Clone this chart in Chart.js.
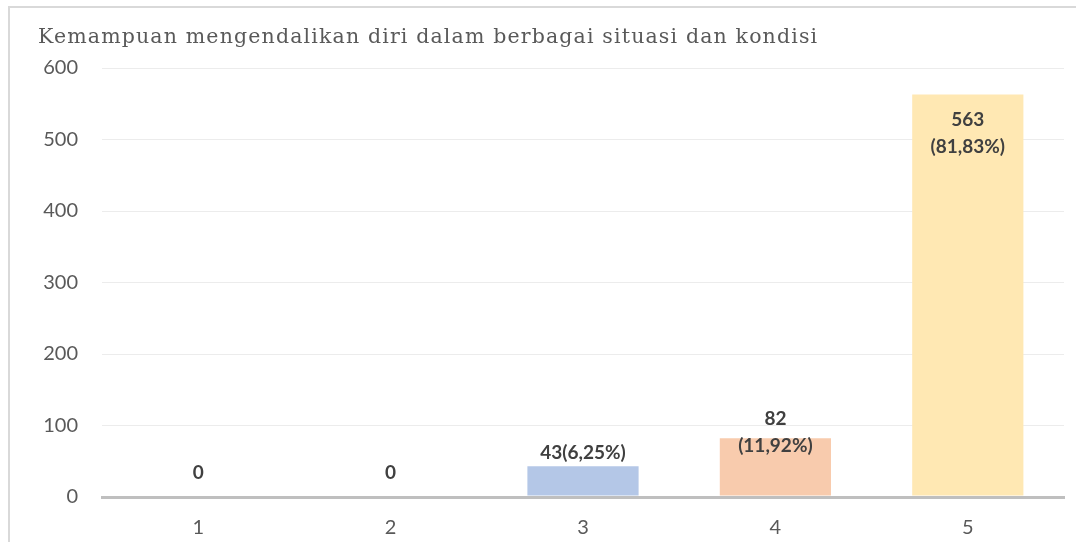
<!DOCTYPE html>
<html>
<head>
<meta charset="utf-8">
<script src="https://cdn.jsdelivr.net/npm/chart.js@4/dist/chart.umd.min.js"></script>
<style>
    body { margin: 0; background: #fff; }
    #wrap { position: relative; width: 1076px; height: 542px; overflow: hidden; }
    #frame { position: absolute; left: 8px; top: 6px; width: 1100px; height: 600px;
             border-left: 2px solid #d9d9d9; border-top: 2px solid #d9d9d9; }
    canvas { position: absolute; left: 0; top: 0; }
</style>
</head>
<body>
<div id="wrap">
    <div id="frame"></div>
    <canvas id="chart" width="1076" height="542"></canvas>
</div>
<script>
const chartTitle = "Kemampuan mengendalikan diri dalam berbagai situasi dan kondisi";
const categories = ["1", "2", "3", "4", "5"];
const counts = [0, 0, 43, 82, 563];
const dataLabels = [["0"], ["0"], ["43(6,25%)"], ["82", "(11,92%)"], ["563", "(81,83%)"]];
const yTicks = [0, 100, 200, 300, 400, 500, 600];
const barColors = ["#b4c7e7", "#b4c7e7", "#b4c7e7", "#f8cbad", "#ffe8b3"];

// label offsets from bar top (first line centre), Excel placed them a bit oddly
const labelOffsets = [-24, -24, -13, -19, 25];

const titlePlugin = {
    id: "sideTitle",
    afterDraw(chart) {
        const ctx = chart.ctx;
        ctx.save();
        ctx.font = "20.5px 'DejaVu Serif'";
        ctx.fillStyle = "#595959";
        ctx.textBaseline = "middle";
        const w = ctx.measureText(chartTitle).width;
        const spacing = (779 - w) / (chartTitle.length - 1);
        ctx.letterSpacing = spacing.toFixed(2) + "px";
        ctx.fillText(chartTitle, 38, 38);
        ctx.restore();
    }
};

const labelPlugin = {
    id: "barLabels",
    afterDatasetsDraw(chart) {
        const ctx = chart.ctx;
        const meta = chart.getDatasetMeta(0);
        ctx.save();
        ctx.font = "bold 19px Lato";
        ctx.fillStyle = "#404040";
        ctx.textAlign = "center";
        ctx.textBaseline = "middle";
        meta.data.forEach((bar, i) => {
            dataLabels[i].forEach((line, j) => {
                ctx.fillText(line, bar.x, bar.y + labelOffsets[i] + j * 27);
            });
        });
        ctx.restore();
    }
};

new Chart(document.getElementById("chart"), {
    type: "bar",
    data: {
        labels: categories,
        datasets: [{
            data: counts,
            backgroundColor: barColors,
            borderWidth: 0,
            categoryPercentage: 1,
            barPercentage: 0.578
        }]
    },
    options: {
        responsive: false,
        animation: false,
        layout: { padding: { top: 68, right: 12, left: 0, bottom: 0 } },
        plugins: {
            legend: { display: false },
            tooltip: { enabled: false }
        },
        scales: {
            x: {
                grid: { display: false, drawTicks: false },
                border: { color: "#bfbfbf", width: 3 },
                ticks: { color: "#595959", font: { family: "Lato", size: 20 }, padding: 19 },
                afterFit(axis) { axis.height = 45; }
            },
            y: {
                min: yTicks[0],
                max: yTicks[yTicks.length - 1],
                afterBuildTicks(axis) { axis.ticks = yTicks.map(v => ({ value: v })); },
                grid: {
                    drawTicks: false,
                    color: ctx => ctx.tick && ctx.tick.value === 0 ? "#bfbfbf" : "#ececec",
                    lineWidth: ctx => ctx.tick && ctx.tick.value === 0 ? 3 : 1
                },
                border: { display: false },
                ticks: { color: "#595959", font: { family: "Lato", size: 20 }, padding: 24 },
                afterFit(axis) { axis.width = 102; }
            }
        }
    },
    plugins: [titlePlugin, labelPlugin]
});
</script>
</body>
</html>
